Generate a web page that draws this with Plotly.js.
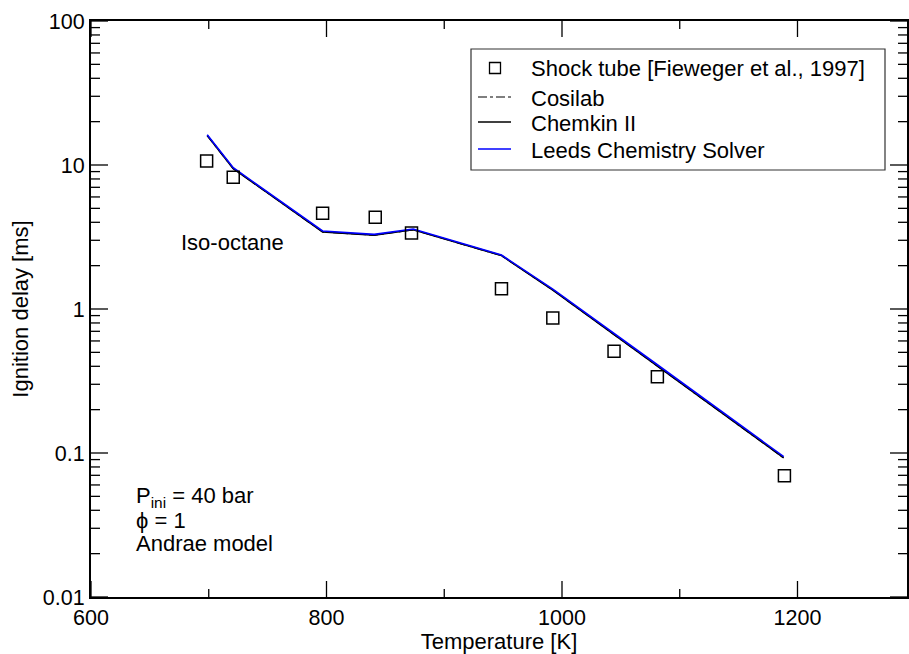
<!DOCTYPE html>
<html>
<head>
<meta charset="utf-8">
<script src="https://cdn.plot.ly/plotly-3.0.1.min.js"></script>
<style>html,body{margin:0;padding:0;background:#fff;}#chart{width:909px;height:654px;}</style>
</head>
<body>
<div id="chart"></div>
<script>
// Experimental data (Shock tube, Fieweger et al., 1997)
const expT = [698.2, 720.8, 796.7, 841.4, 872.2, 948.6, 992.2, 1044.2, 1081.0, 1188.9];
const expDelay = [10.66, 8.22, 4.62, 4.33, 3.37, 1.38, 0.866, 0.508, 0.339, 0.0695];

// Model predictions
const modelT = [698.7, 720.8, 796.7, 840.5, 873.6, 948.6, 992.5, 1044.5, 1081.0, 1188.3];
const cosilabDelay = [16.0, 9.45, 3.43, 3.26, 3.55, 2.35, 1.35, 0.665, 0.403, 0.0925];
const chemkinDelay = [16.0, 9.45, 3.43, 3.26, 3.55, 2.35, 1.35, 0.665, 0.403, 0.0925];
const leedsDelay = [16.2, 9.57, 3.48, 3.30, 3.59, 2.37, 1.37, 0.68, 0.41, 0.0943];

const seriesNames = ["Shock tube [Fieweger et al., 1997]", "Cosilab", "Chemkin II", "Leeds Chemistry Solver"];

const xRange = [600, 1293];
const yRangeLog = [-2, 2];
const xTickVals = [600, 800, 1000, 1200];
const xMinorVals = [700, 900, 1100];
const yTickVals = [0.01, 0.1, 1, 10, 100];
const yTickText = ["0.01", "0.1", "1", "10", "100"];
const yMinorVals = [];
[0.01, 0.1, 1, 10].forEach(d => { for (let k = 2; k <= 9; k++) yMinorVals.push(+(d * k).toPrecision(3)); });

const FONT = "Liberation Sans, Arial, Helvetica, sans-serif";
const FS = 22;

// plot-area geometry (pixels) for placing legend / notes / tick lengths
const ML = 91, MT = 21, PW = 816, PH = 576;
const px2x = px => (px - ML) / PW;
const py2y = py => (PH + MT - py) / PH;
const xUnitsPerPx = (xRange[1] - xRange[0]) / PW;
const decadesPerPx = (yRangeLog[1] - yRangeLog[0]) / PH;

// inward tick marks on all four sides, built from the tick arrays
const tickX = [], tickY = [];
function addXTick(v, len) {
  const yLo = Math.pow(10, yRangeLog[0]), yHi = Math.pow(10, yRangeLog[1]);
  tickX.push(v, v, null, v, v, null);
  tickY.push(yLo, Math.pow(10, yRangeLog[0] + len * decadesPerPx), null,
             yHi, Math.pow(10, yRangeLog[1] - len * decadesPerPx), null);
}
function addYTick(v, len) {
  tickX.push(xRange[0], xRange[0] + len * xUnitsPerPx, null, xRange[1], xRange[1] - len * xUnitsPerPx, null);
  tickY.push(v, v, null, v, v, null);
}
xTickVals.forEach(v => addXTick(v, 16));
xMinorVals.forEach(v => addXTick(v, 8));
yTickVals.forEach(v => addYTick(v, 17));
yMinorVals.forEach(v => addYTick(v, 9));

const traces = [
  {
    x: tickX, y: tickY, mode: "lines", type: "scatter", name: "ticks", showlegend: false,
    hoverinfo: "skip", connectgaps: false, line: {color: "#000", width: 1.3}
  },
  {
    x: modelT, y: cosilabDelay, mode: "lines", type: "scatter", name: seriesNames[1], showlegend: false,
    line: {color: "#000", width: 1.3, dash: "dashdot"}
  },
  {
    x: modelT, y: chemkinDelay, mode: "lines", type: "scatter", name: seriesNames[2], showlegend: false,
    line: {color: "#000", width: 1.6}
  },
  {
    x: modelT, y: leedsDelay, mode: "lines", type: "scatter", name: seriesNames[3], showlegend: false,
    line: {color: "#0000ff", width: 1.6}
  },
  {
    x: expT, y: expDelay, mode: "markers", type: "scatter", name: seriesNames[0], showlegend: false,
    marker: {symbol: "square-open", size: 12, color: "#000", line: {width: 1.5, color: "#000"}}
  }
];

const axisCommon = {
  showline: true, linecolor: "#000", linewidth: 2, mirror: true,
  ticks: "", showgrid: false, zeroline: false,
  tickfont: {family: FONT, size: 21.5, color: "#000"}
};

// custom legend (box, samples, labels)
const legRows = [67, 97, 122, 149];
const shapes = [
  {type: "rect", xref: "paper", yref: "paper", x0: px2x(471), x1: px2x(885), y0: py2y(170), y1: py2y(49),
   line: {color: "#333", width: 1.2}, fillcolor: "#fff", layer: "above"},
  {type: "rect", xref: "paper", yref: "paper", xsizemode: "pixel", ysizemode: "pixel",
   xanchor: px2x(495), yanchor: py2y(legRows[0] + 1), x0: -5.5, x1: 5.5, y0: -5.5, y1: 5.5,
   line: {color: "#000", width: 1.3}, fillcolor: "rgba(0,0,0,0)", layer: "above"},
  {type: "line", xref: "paper", yref: "paper", x0: px2x(478), x1: px2x(511), y0: py2y(legRows[1]), y1: py2y(legRows[1]),
   line: {color: "#000", width: 1.2, dash: "dashdot"}, layer: "above"},
  {type: "line", xref: "paper", yref: "paper", x0: px2x(478), x1: px2x(511), y0: py2y(legRows[2]), y1: py2y(legRows[2]),
   line: {color: "#000", width: 1.4}, layer: "above"},
  {type: "line", xref: "paper", yref: "paper", x0: px2x(478), x1: px2x(511), y0: py2y(legRows[3]), y1: py2y(legRows[3]),
   line: {color: "#0000ff", width: 1.4}, layer: "above"}
];

const annotations = seriesNames.map((n, i) => ({
  xref: "paper", yref: "paper", x: px2x(529), y: py2y(legRows[i] + 1), xanchor: "left", yanchor: "middle",
  text: n, showarrow: false, font: {family: FONT, size: FS, color: "#000"}
}));

annotations.push(
  {xref: "paper", yref: "paper", x: px2x(179), y: py2y(243), xanchor: "left", yanchor: "middle",
   text: "Iso-octane", showarrow: false, font: {family: FONT, size: FS, color: "#000"}},
  {xref: "paper", yref: "paper", x: px2x(134), y: py2y(497), xanchor: "left", yanchor: "middle",
   text: "P<sub>ini</sub> = 40 bar", showarrow: false, font: {family: FONT, size: FS, color: "#000"}},
  {xref: "paper", yref: "paper", x: px2x(134), y: py2y(520), xanchor: "left", yanchor: "middle",
   text: "ϕ = 1", showarrow: false, font: {family: FONT, size: FS, color: "#000"}},
  {xref: "paper", yref: "paper", x: px2x(134), y: py2y(543), xanchor: "left", yanchor: "middle",
   text: "Andrae model", showarrow: false, font: {family: FONT, size: FS, color: "#000"}}
);

const layout = {
  width: 909, height: 654,
  margin: {l: ML, r: 909 - ML - PW, t: MT, b: 654 - MT - PH},
  showlegend: false,
  xaxis: Object.assign({}, axisCommon, {
    range: xRange, tickmode: "array", tickvals: xTickVals,
    title: {text: "Temperature [K]", font: {family: FONT, size: FS, color: "#000"}, standoff: 2}
  }),
  yaxis: Object.assign({}, axisCommon, {
    type: "log", range: yRangeLog, tickmode: "array", tickvals: yTickVals, ticktext: yTickText,
    title: {text: "Ignition delay [ms]", font: {family: FONT, size: FS, color: "#000"}, standoff: 8}
  }),
  shapes: shapes,
  annotations: annotations
};

Plotly.newPlot("chart", traces, layout, {displayModeBar: false});
</script>
</body>
</html>
